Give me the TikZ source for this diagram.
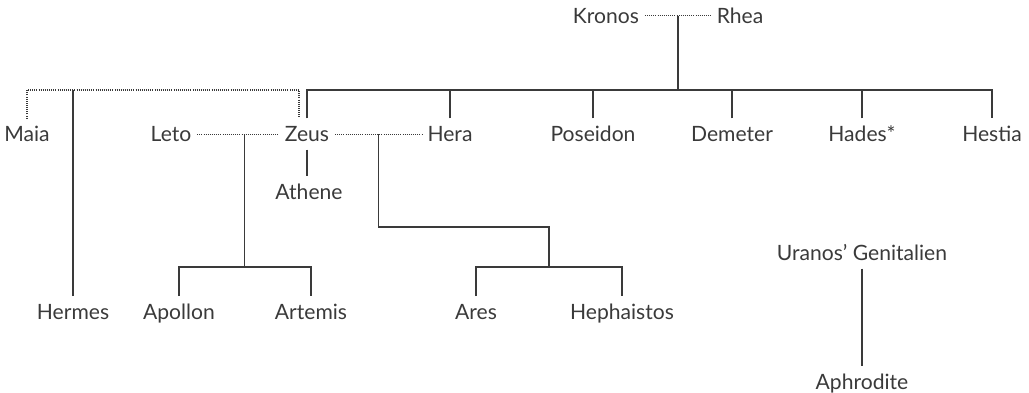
\documentclass[tikz,border=0pt]{standalone}
\usepackage{fontspec}
\setmainfont{Lato}
\usepackage{tikz}
\usetikzlibrary{positioning}
\definecolor{ink}{HTML}{3A3A3A}

\begin{document}
\begin{tikzpicture}[
      x=0.025cm, y=-0.025cm,
      god/.style={anchor=base, inner xsep=4pt, inner ysep=5.5pt, text height=10.8pt, text depth=0pt, font=\fontsize{15}{18}\selectfont, text=ink},
      link/.style={draw=ink, line width=0.9pt},
      partner/.style={draw=ink, line width=0.8pt, dash pattern=on 0.6pt off 0.9pt}
    ]
    \useasboundingbox (0,0) rectangle (1029,393);
    \coordinate (bar) at (0,90);
    \coordinate (zhbar) at (0,227);
    \coordinate (kids) at (0,267);

    % Titans
    \node[god] (Kronos) at (606,23.3) {Kronos};
    \node[god] (Rhea) at (740,23.3) {Rhea};

    % first generation
    \node[god] (Maia) at (27,141.7) {Maia};
    \node[god] (Leto) at (171,141.7) {Leto};
    \node[god] (Zeus) at (307,141.7) {Zeus};
    \node[god] (Hera) at (450,141.7) {Hera};
    \node[god] (Poseidon) at (593,141.7) {Poseidon};
    \node[god] (Demeter) at (732,141.7) {Demeter};
    \node[god] (Hades) at (862,141.7) {Hades*};
    \node[god] (Hestia) at (992,141.7) {Hestia};
    \node[god] (Athene) at (309,199) {Athene};
    \node[god] (Uranos) at (862,260.7) {Uranos’ Genitalien};

    % second generation
    \node[god] (Hermes) at (73,319.3) {Hermes};
    \node[god] (Apollon) at (179,319.3) {Apollon};
    \node[god] (Artemis) at (311,319.3) {Artemis};
    \node[god] (Ares) at (476,319.3) {Ares};
    \node[god] (Hephaistos) at (622,319.3) {Hephaistos};
    \node[god] (Aphrodite) at (862,389) {Aphrodite};

    % Kronos and Rhea
    \draw[partner] (Kronos) -- coordinate[pos=.5] (kr) (Rhea);
    \draw[link] (kr) -- (kr |- bar);
    \draw[link] (Zeus.north) -- (Zeus.north |- bar) -- (Hestia.north |- bar) -- (Hestia.north);
    \foreach \g in {Hera, Poseidon, Demeter, Hades}
      \draw[link] (\g.north) -- (\g.north |- bar);

    % Zeus and Maia
    \coordinate (zd) at ([xshift=-5.7pt]Zeus.north);
    \draw[partner] (Maia.north) -- (Maia.north |- bar) -- (zd |- bar) -- (zd);
    \draw[link] (Hermes.north) -- (Hermes.north |- bar);

    % Zeus and Leto, Zeus and Hera
    \draw[partner] (Leto) -- coordinate[pos=.58] (lz) (Zeus);
    \draw[partner] (Zeus) -- coordinate[pos=.5] (zh) (Hera);
    \draw[link] (lz) -- (lz |- kids);
    \draw[link] (Apollon.north) |- (Artemis.north |- kids) -- (Artemis.north);
    \path (Ares.north) -- coordinate[pos=.5] (ah) (Hephaistos.north);
    \draw[link] (zh) |- (ah |- zhbar) -- (ah |- kids);
    \draw[link] (Ares.north) |- (Hephaistos.north |- kids) -- (Hephaistos.north);
    \draw[link] (Zeus.south) -- (Zeus.south |- Athene.north);

    % Aphrodite
    \draw[link] (Uranos.south) -- (Uranos.south |- Aphrodite.north);
  \end{tikzpicture}
\end{document}
